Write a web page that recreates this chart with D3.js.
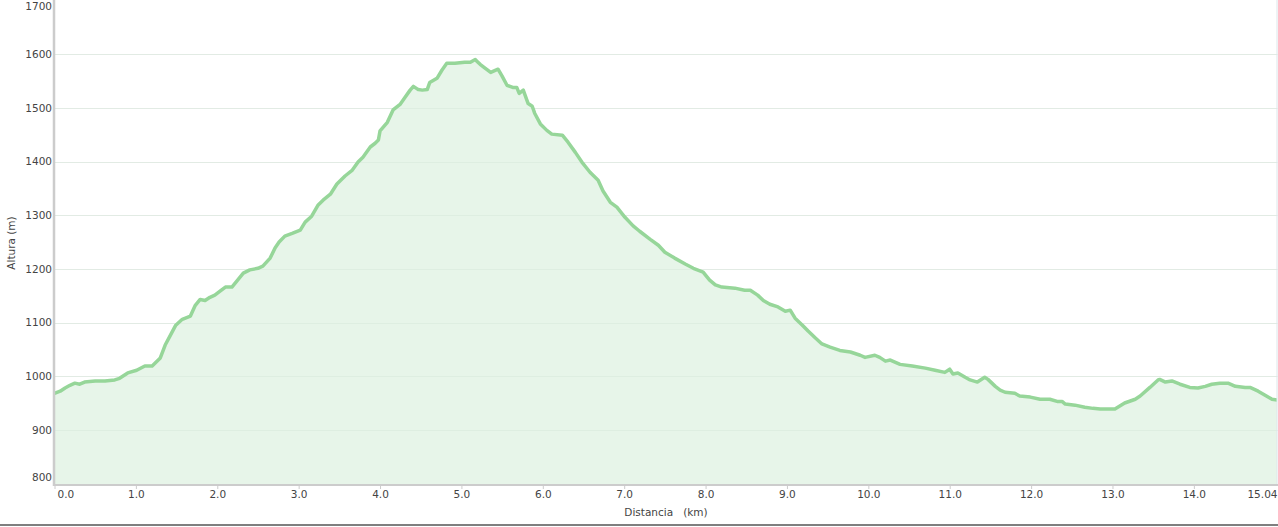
<!DOCTYPE html>
<html><head><meta charset="utf-8">
<script src="https://cdn.jsdelivr.net/npm/d3@7"></script>
<style>
html,body{margin:0;padding:0;background:#fff;overflow:hidden}
svg{display:block;font-family:"DejaVu Sans",Verdana,sans-serif}
</style></head><body>
<svg id="c" width="1278" height="527"></svg>
<script>
const distKm = [0,0.07,0.13,0.19,0.25,0.31,0.37,0.50,0.62,0.74,0.80,0.90,1.01,1.11,1.20,1.30,1.36,1.42,1.49,1.57,1.67,1.73,1.79,1.85,1.91,1.97,2.03,2.10,2.18,2.25,2.32,2.40,2.50,2.56,2.65,2.71,2.76,2.83,2.92,3.02,3.08,3.16,3.24,3.30,3.39,3.47,3.57,3.66,3.73,3.79,3.88,3.94,3.98,4.00,4.09,4.16,4.25,4.31,4.37,4.41,4.47,4.52,4.58,4.61,4.70,4.76,4.82,4.92,5.04,5.11,5.17,5.19,5.23,5.29,5.36,5.45,5.50,5.56,5.63,5.68,5.71,5.76,5.82,5.87,5.90,5.97,6.05,6.11,6.24,6.31,6.40,6.48,6.58,6.68,6.74,6.83,6.91,7.01,7.11,7.19,7.32,7.42,7.50,7.62,7.75,7.85,7.97,8.05,8.12,8.20,8.36,8.48,8.55,8.64,8.71,8.79,8.89,8.98,9.04,9.10,9.19,9.26,9.35,9.43,9.53,9.65,9.78,9.90,9.96,10.08,10.14,10.21,10.27,10.39,10.54,10.70,10.82,10.94,11.00,11.04,11.10,11.19,11.25,11.34,11.43,11.47,11.56,11.62,11.68,11.80,11.86,11.99,12.11,12.23,12.32,12.38,12.42,12.54,12.66,12.76,12.85,12.97,13.03,13.15,13.28,13.34,13.46,13.56,13.58,13.65,13.73,13.83,13.95,14.05,14.14,14.22,14.32,14.42,14.51,14.63,14.69,14.79,14.87,14.96,15.04];
const altitudeM = [968,972,978,983,987,985,989,991,991,993,996,1006,1011,1019,1019,1034,1058,1075,1095,1106,1112,1132,1143,1141,1147,1151,1158,1166,1166,1179,1192,1198,1201,1205,1220,1239,1250,1261,1266,1272,1287,1298,1319,1328,1339,1358,1373,1384,1399,1408,1427,1434,1440,1457,1473,1496,1507,1520,1533,1540,1534,1533,1534,1547,1555,1570,1583,1583,1585,1585,1590,1587,1581,1574,1566,1572,1559,1542,1538,1538,1527,1533,1508,1503,1490,1470,1458,1451,1449,1436,1417,1399,1380,1365,1345,1324,1315,1296,1280,1270,1255,1244,1231,1220,1209,1201,1194,1179,1170,1166,1164,1160,1160,1151,1141,1134,1129,1121,1123,1108,1095,1084,1071,1060,1054,1048,1045,1039,1035,1039,1035,1028,1030,1022,1019,1015,1011,1007,1013,1004,1006,998,993,989,998,994,981,974,970,968,963,961,957,957,953,953,948,946,942,940,939,939,939,950,957,963,979,993,994,989,991,985,979,978,981,985,987,987,981,979,979,972,965,957,955];
const xTicks = [0,1,2,3,4,5,6,7,8,9,10,11,12,13,14,15.04];
const yTicks = [800,900,1000,1100,1200,1300,1400,1500,1600,1700];
const xTitle = "Distancia   (km)";
const yTitle = "Altura (m)";

const data = distKm.map((d,i)=>({x:d,y:altitudeM[i]}));
const svg = d3.select("#c");
const x = d3.scaleLinear().domain([0,15.04]).range([54.5,1278.5]);
const y = d3.scaleLinear().domain([800,1700]).range([483.5,0.5]);

// grid
svg.append("g").selectAll("line").data(yTicks.filter(t=>t>800&&t<1700)).join("line")
  .attr("x1",55).attr("x2",1278).attr("y1",d=>Math.round(y(d))+0.5).attr("y2",d=>Math.round(y(d))+0.5)
  .attr("stroke","#efefef").attr("stroke-width",1);

// clip
svg.append("clipPath").attr("id","pc").append("rect").attr("x",55).attr("y",0).attr("width",1222).attr("height",485);
const g = svg.append("g").attr("clip-path","url(#pc)");
g.append("path").datum(data)
  .attr("d",d3.area().x(d=>x(d.x)).y0(485).y1(d=>y(d.y)))
  .attr("fill","#e4f4e7").attr("fill-opacity",0.9);
g.append("g").selectAll("line").data(yTicks.filter(t=>t>800&&t<1700)).join("line")
  .attr("x1",55).attr("x2",1278).attr("y1",d=>Math.round(y(d))+0.5).attr("y2",d=>Math.round(y(d))+0.5)
  .attr("stroke","#d6e8d9").attr("stroke-opacity",0.5).attr("stroke-width",1);
g.append("path").datum(data)
  .attr("d",d3.line().x(d=>x(d.x)).y(d=>y(d.y)))
  .attr("fill","none").attr("stroke","#96d699").attr("stroke-width",3.5)
  .attr("stroke-linejoin","round").attr("stroke-linecap","round");

// right edge line
svg.append("line").attr("x1",1277).attr("x2",1277).attr("y1",0).attr("y2",485)
  .attr("stroke","#dde6ea").attr("stroke-width",1);

// axes
const xAxis = d3.axisBottom(x).tickValues(xTicks).tickSize(4).tickFormat(d=>d===15.04?"15.04":d3.format(".1f")(d));
const ax = svg.append("g").attr("transform","translate(0,485)").call(xAxis);
ax.select(".domain").attr("stroke","#cccccc").attr("stroke-width",2).attr("d","M54,0H1278");
ax.selectAll(".tick line").attr("stroke","#cccccc");
ax.selectAll(".tick text").attr("fill","#444").attr("font-size",10.5).attr("font-family","DejaVu Sans, Verdana, sans-serif").attr("dy","0.75em").attr("y",5);
ax.selectAll(".tick").filter(d=>d===0).select("text").attr("text-anchor","start").attr("dx",2.5);
ax.selectAll(".tick").filter(d=>d===15.04).select("text").attr("text-anchor","end").attr("dx",-1.5);

const yAxis = d3.axisLeft(y).tickValues(yTicks).tickSize(0).tickPadding(0).tickFormat(d3.format("d"));
const ay = svg.append("g").attr("transform","translate(54,0)").call(yAxis);
ay.select(".domain").attr("stroke","#cccccc").attr("stroke-width",2.5).attr("d","M0,0V486");
ay.selectAll(".tick text").attr("fill","#444").attr("font-size",10.5).attr("font-family","DejaVu Sans, Verdana, sans-serif").attr("x",-2);
ay.selectAll(".tick").filter(d=>d===1700).attr("transform","translate(0,7)");
ay.selectAll(".tick").filter(d=>d===800).attr("transform","translate(0,478)");

// titles
svg.append("text").attr("x",666).attr("y",516).attr("text-anchor","middle")
  .attr("font-size",10.5).attr("fill","#444").style("white-space","pre").text(xTitle);
svg.append("text").attr("transform","translate(15,243) rotate(-90)").attr("text-anchor","middle")
  .attr("font-size",10.5).attr("fill","#444").text(yTitle);

// bottom border
svg.append("line").attr("x1",0).attr("x2",1278).attr("y1",525).attr("y2",525)
  .attr("stroke","#555").attr("stroke-width",1.5);
</script></body></html>
